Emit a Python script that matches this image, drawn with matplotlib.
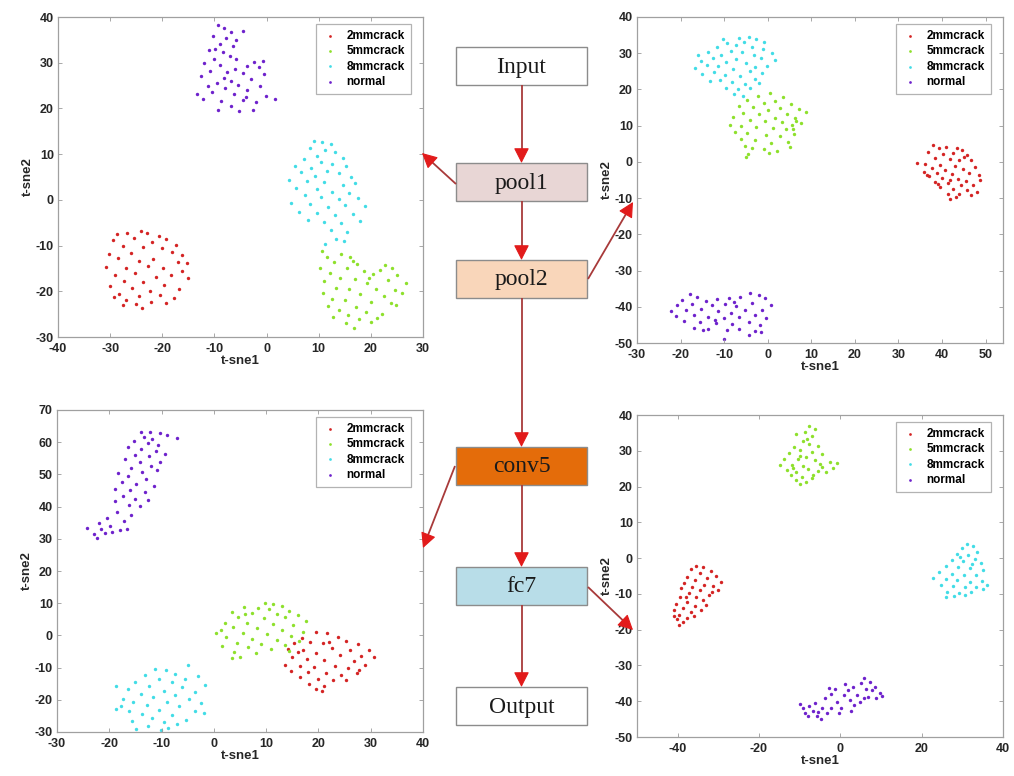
import numpy as np
import matplotlib
matplotlib.use("Agg")
import matplotlib.pyplot as plt
from matplotlib.patches import Rectangle
from matplotlib.font_manager import FontProperties

plt.rcParams["axes.unicode_minus"] = False

# ---------------- data ----------------
classes = ["2mmcrack", "5mmcrack", "8mmcrack", "normal"]
class_colors = ["#D42424", "#8EE02C", "#42DCE6", "#6E22CC"]

# ---- pool1 panel ----
pool1_2mm = [(-28.6,-7.4),(-26.8,-7.2),(-24.1,-6.9),(-22.9,-7.3),(-20.6,-8.0),(-19.3,-8.6),(-29.4,-8.7),(-25.4,-8.4),(-22.0,-9.2),(-17.4,-9.9),(-27.6,-10.1),(-23.7,-10.4),(-20.1,-10.6),(-30.3,-11.9),(-26.0,-11.7),(-18.2,-11.5),(-16.3,-12.0),(-28.4,-12.8),(-21.8,-12.9),(-24.4,-13.3),(-17.0,-13.6),(-15.3,-13.9),(-30.8,-14.6),(-27.0,-14.8),(-22.8,-14.5),(-19.8,-14.9),(-25.3,-15.9),(-16.2,-15.6),(-29.0,-16.4),(-21.2,-16.8),(-18.3,-16.4),(-15.0,-17.0),(-27.4,-17.8),(-23.7,-18.0),(-19.6,-18.6),(-30.0,-18.9),(-25.9,-19.3),(-16.7,-19.4),(-22.4,-19.9),(-28.3,-20.5),(-20.5,-20.8),(-24.5,-21.1),(-17.8,-21.4),(-26.9,-21.9),(-22.1,-22.4),(-29.2,-21.3),(-25.0,-22.8),(-27.6,-23.0),(-23.8,-23.7),(-19.2,-22.5)]
pool1_5mm = [(10.7,-11.2),(11.6,-12.4),(14.3,-11.8),(16.0,-12.6),(13.0,-13.6),(17.3,-14.0),(10.2,-14.8),(15.4,-14.9),(22.8,-14.3),(24.0,-14.8),(12.2,-15.9),(18.6,-15.6),(20.4,-16.2),(21.8,-15.4),(25.1,-16.4),(14.1,-17.1),(16.9,-17.4),(11.1,-17.8),(19.3,-18.1),(23.2,-17.6),(26.7,-18.2),(13.4,-19.2),(15.8,-19.6),(21.0,-19.5),(24.6,-19.8),(10.9,-20.4),(18.0,-20.6),(22.6,-21.0),(26.0,-20.3),(12.6,-21.6),(15.0,-22.0),(20.0,-22.3),(23.8,-22.6),(11.7,-23.2),(17.2,-23.4),(13.9,-24.1),(19.1,-24.6),(22.2,-24.9),(15.6,-25.2),(12.7,-25.6),(17.8,-26.0),(20.1,-26.7),(15.3,-27.0),(16.8,-28.0),(21.1,-25.8),(24.9,-23.0),(19.6,-17.0),(16.6,-13.3)]
pool1_8mm = [(9.0,12.8),(10.6,12.6),(12.3,12.2),(8.4,11.3),(11.2,10.8),(13.1,10.4),(9.7,9.6),(14.6,9.2),(7.2,8.9),(10.4,8.3),(12.5,7.8),(5.4,7.5),(8.6,7.0),(15.2,7.3),(11.6,6.4),(6.6,6.0),(13.8,5.8),(9.3,5.2),(16.2,5.0),(4.3,4.4),(7.8,4.1),(11.0,3.9),(14.6,3.3),(17.0,3.6),(5.6,2.6),(9.6,2.4),(12.6,1.8),(15.9,1.5),(7.3,1.0),(10.5,0.6),(13.9,0.1),(17.6,0.3),(4.7,-0.6),(8.4,-1.0),(11.8,-1.5),(15.0,-1.2),(18.8,-1.4),(6.2,-2.6),(9.7,-2.9),(13.1,-3.4),(16.6,-3.0),(8.0,-4.4),(11.0,-4.9),(14.2,-5.1),(17.9,-4.6),(12.3,-6.6),(15.4,-7.0),(13.3,-8.6),(14.9,-9.1),(11.2,-9.6)]
pool1_normal = [(-9.3,38.2),(-8.2,37.5),(-6.9,36.8),(-4.6,36.9),(-10.2,35.8),(-7.8,35.3),(-5.9,35.0),(-9.0,34.0),(-6.5,33.6),(-11.0,32.8),(-8.4,32.4),(-7.0,31.5),(-10.1,30.9),(-5.8,30.8),(-2.4,30.1),(-0.6,30.3),(-12.0,30.0),(-8.9,29.6),(-3.7,29.2),(-1.5,29.0),(-6.1,28.7),(-10.8,28.2),(-4.6,27.8),(-0.4,27.6),(-12.6,27.0),(-8.2,26.7),(-6.8,26.1),(-2.9,26.4),(-9.6,25.6),(-11.3,25.0),(-5.4,25.2),(-1.2,24.9),(-7.9,24.4),(-3.8,24.0),(-13.4,23.2),(-10.5,23.6),(-6.3,23.1),(-0.2,22.7),(1.6,22.0),(-12.2,22.0),(-8.8,21.7),(-4.5,21.9),(-2.1,21.5),(-6.8,20.6),(-9.3,19.6),(-5.3,19.5),(-2.6,19.7),(-3.9,22.6),(-7.5,27.9),(-9.9,33.0)]

# ---- pool2 panel ----
pool2_2mm = [(37.9,4.6),(39.3,3.8),(41.0,4.0),(43.5,3.9),(44.6,3.4),(36.8,2.6),(40.2,2.1),(42.6,2.4),(45.7,2.0),(38.4,1.2),(41.8,0.8),(44.0,0.6),(46.6,0.4),(34.3,-0.4),(36.2,-0.6),(39.6,-0.9),(42.9,-1.1),(47.5,-1.3),(37.7,-1.8),(40.8,-2.2),(44.9,-2.0),(35.9,-2.7),(38.9,-3.0),(42.2,-3.4),(46.3,-3.2),(48.4,-3.6),(37.0,-4.0),(40.0,-4.4),(43.6,-4.6),(45.6,-5.2),(48.8,-5.1),(38.3,-5.6),(41.4,-5.9),(44.4,-6.3),(47.2,-6.4),(39.6,-7.0),(42.6,-7.6),(45.8,-7.8),(48.0,-8.2),(41.3,-8.8),(43.9,-9.0),(46.6,-9.2),(41.9,-10.3),(43.2,-9.8),(36.5,-3.5),(39.0,-6.0),(45.1,1.3),(41.9,-5.0)]
pool2_5mm = [(0.6,18.9),(-2.3,18.2),(3.6,17.8),(-4.8,17.0),(1.6,16.8),(-0.9,16.2),(5.4,16.0),(-6.7,15.4),(-3.3,15.2),(2.8,15.0),(0.1,14.3),(7.1,14.6),(8.8,13.7),(-5.6,13.6),(-2.0,13.2),(4.4,13.3),(-7.9,12.4),(1.7,12.2),(6.3,12.0),(-4.0,11.6),(-0.6,11.2),(3.3,11.0),(-8.6,10.3),(-6.1,10.0),(5.6,10.2),(7.6,10.6),(-2.6,9.5),(1.1,9.3),(4.2,9.0),(-7.4,8.3),(-4.8,8.0),(-0.4,7.5),(2.8,7.2),(6.0,7.6),(-6.2,6.2),(-2.9,6.0),(0.7,5.3),(4.6,5.4),(-5.3,4.5),(-3.5,3.8),(-0.9,3.6),(2.2,3.0),(5.2,4.0),(-4.6,2.3),(-4.9,1.4),(0.3,2.4),(5.7,9.1),(6.6,11.4)]
pool2_8mm = [(-4.3,34.6),(-2.6,33.9),(-5.5,33.2),(-0.8,33.0),(-9.4,32.7),(-7.2,32.2),(-3.6,31.8),(-11.6,31.6),(-1.1,31.2),(-13.8,30.4),(-8.5,30.6),(-5.9,30.2),(0.9,30.0),(-16.1,29.4),(-10.7,29.6),(-3.2,29.5),(-12.6,28.6),(-7.3,28.5),(-1.5,28.6),(1.7,28.1),(-15.2,27.8),(-9.6,27.6),(-5.0,27.4),(-14.0,26.8),(-11.3,26.4),(-2.9,26.2),(-0.2,26.6),(-16.6,26.0),(-7.9,25.6),(-4.1,25.0),(-12.4,24.8),(-9.8,24.1),(-1.4,24.6),(-15.0,24.2),(-6.4,23.8),(-3.0,23.0),(-11.0,22.6),(-8.2,22.0),(-5.2,21.6),(-13.2,22.4),(-9.6,20.4),(-6.9,20.0),(-4.1,20.4),(-7.8,18.8),(-5.6,18.3),(-1.9,21.8),(-10.2,33.8),(-6.6,34.1)]
pool2_normal = [(-17.9,-36.6),(-16.2,-37.3),(-19.7,-38.2),(-14.1,-38.4),(-11.6,-37.8),(-8.9,-37.6),(-6.4,-37.2),(-4.1,-36.1),(-2.0,-36.8),(-0.6,-37.6),(-20.8,-39.6),(-17.4,-39.2),(-12.8,-39.6),(-9.8,-39.3),(-7.2,-39.9),(-3.5,-38.9),(0.8,-39.4),(-22.1,-41.2),(-18.8,-41.0),(-15.3,-40.6),(-11.4,-41.2),(-8.4,-41.6),(-5.1,-41.0),(-1.4,-40.8),(-21.0,-42.5),(-16.9,-42.4),(-13.7,-42.8),(-10.0,-43.0),(-6.6,-42.7),(-2.9,-42.4),(-0.4,-43.0),(-19.2,-43.8),(-15.6,-44.3),(-11.9,-44.6),(-8.2,-44.8),(-4.3,-44.2),(-1.8,-45.0),(-17.0,-45.8),(-13.6,-46.1),(-9.3,-46.3),(-6.6,-46.0),(-3.0,-46.8),(-14.9,-46.3),(-4.3,-47.8),(-10.1,-48.8),(-1.5,-46.9),(-7.8,-38.6),(-12.2,-43.6)]

# ---- conv5 panel ----
conv5_2mm = [(16.8,-0.9),(19.5,1.2),(21.6,0.8),(23.8,-0.4),(15.3,-2.5),(18.4,-2.0),(20.8,-2.4),(25.2,-1.8),(27.6,-2.6),(14.2,-4.2),(17.0,-4.6),(22.5,-4.0),(26.1,-4.4),(29.6,-4.6),(19.6,-5.4),(24.2,-6.0),(28.2,-6.4),(30.6,-6.8),(15.0,-6.7),(17.8,-7.4),(21.0,-7.6),(26.8,-8.0),(13.6,-9.2),(16.4,-9.6),(19.2,-9.8),(23.1,-9.6),(25.6,-10.2),(29.0,-9.2),(14.8,-11.0),(18.0,-11.4),(21.4,-11.8),(24.4,-12.2),(27.4,-11.6),(16.5,-13.0),(20.0,-13.6),(22.8,-14.0),(25.2,-13.8),(18.2,-15.0),(21.0,-15.6),(19.6,-16.8),(20.6,-17.2),(22.0,-2.0),(27.8,-10.6),(16.0,-5.0)]
conv5_5mm = [(9.8,10.1),(11.3,9.6),(13.0,9.0),(5.8,8.8),(8.5,8.6),(10.6,8.2),(14.4,7.7),(3.4,7.4),(7.2,7.0),(12.0,6.8),(16.0,6.4),(4.7,5.8),(9.6,5.4),(13.7,5.6),(17.6,4.4),(2.1,4.0),(6.4,4.0),(11.4,3.6),(15.2,3.2),(3.7,2.6),(8.3,2.2),(13.1,1.8),(17.0,1.2),(0.4,0.6),(5.6,0.9),(10.2,0.3),(14.8,-0.2),(2.4,-0.6),(7.3,-1.1),(12.0,-1.4),(16.2,-1.8),(4.4,-2.4),(9.0,-2.8),(13.6,-3.0),(1.6,-3.2),(6.6,-3.7),(11.0,-4.2),(3.8,-5.0),(8.1,-5.4),(5.0,-6.6),(3.5,-7.1),(14.4,-4.8),(6.0,6.5),(1.3,1.8)]
conv5_8mm = [(-5.0,-9.2),(-11.3,-10.4),(-9.2,-10.9),(-7.4,-11.9),(-13.2,-12.3),(-3.0,-12.6),(-5.6,-13.4),(-10.4,-13.6),(-15.0,-14.6),(-8.0,-14.4),(-1.7,-15.4),(-12.4,-15.6),(-18.7,-15.8),(-6.1,-16.0),(-16.4,-16.8),(-9.6,-17.2),(-3.6,-17.6),(-14.0,-18.2),(-7.4,-18.6),(-11.6,-19.1),(-17.4,-19.6),(-4.8,-19.8),(-15.4,-20.6),(-9.0,-20.8),(-2.4,-20.9),(-12.8,-21.5),(-6.6,-22.0),(-18.8,-23.0),(-16.2,-23.4),(-10.4,-23.2),(-3.6,-23.5),(-13.8,-24.4),(-8.0,-24.6),(-1.8,-24.1),(-11.8,-25.6),(-5.4,-26.2),(-15.6,-26.6),(-9.6,-26.8),(-12.6,-28.0),(-7.0,-27.6),(-14.8,-29.2),(-10.2,-29.4),(-8.8,-28.8),(-17.8,-22.0)]
conv5_normal = [(-14.0,63.1),(-12.3,63.3),(-10.3,62.8),(-9.0,62.3),(-7.0,61.2),(-13.4,61.6),(-11.8,61.0),(-15.2,60.4),(-12.6,59.6),(-10.6,59.0),(-16.4,58.6),(-13.9,57.8),(-11.1,57.2),(-9.4,56.4),(-15.1,56.1),(-12.4,55.6),(-17.0,54.8),(-14.2,53.9),(-10.3,53.8),(-12.1,52.6),(-15.9,52.1),(-18.4,50.3),(-13.8,50.8),(-10.8,51.4),(-16.4,49.4),(-12.9,48.7),(-17.6,47.6),(-14.8,47.0),(-11.4,46.4),(-18.9,45.4),(-16.0,45.2),(-13.2,44.6),(-17.4,43.3),(-15.0,42.5),(-12.6,42.0),(-19.0,41.6),(-16.2,40.6),(-14.2,40.2),(-18.5,38.4),(-15.9,37.5),(-20.4,36.4),(-17.2,35.5),(-22.0,34.8),(-19.8,34.0),(-24.2,33.5),(-21.6,33.0),(-18.0,32.6),(-16.6,33.0),(-23.0,31.6),(-20.8,31.9),(-22.4,30.3),(-19.5,32.1)]

# ---- fc7 panel ----
fc7_2mm = [(-35.4,-2.1),(-33.8,-2.6),(-36.8,-3.0),(-31.8,-3.6),(-34.6,-4.2),(-30.6,-5.0),(-37.8,-5.2),(-32.8,-5.6),(-35.8,-6.0),(-29.4,-6.6),(-38.4,-7.0),(-33.6,-7.4),(-31.2,-7.8),(-36.4,-8.0),(-39.2,-8.4),(-34.4,-9.0),(-30.2,-9.0),(-37.2,-9.8),(-32.2,-10.2),(-35.6,-10.8),(-39.4,-11.0),(-33.8,-11.8),(-37.6,-12.2),(-40.4,-12.8),(-35.8,-13.4),(-38.6,-14.0),(-34.2,-14.4),(-40.8,-14.6),(-36.8,-15.0),(-39.6,-15.8),(-37.6,-16.6),(-40.2,-17.0),(-38.6,-17.8),(-39.6,-18.8),(-36.0,-16.2),(-33.0,-13.0),(-41.0,-16.2),(-38.0,-11.0),(-31.6,-9.6)]
fc7_5mm = [(-7.6,37.0),(-6.2,36.2),(-8.8,35.3),(-10.8,34.6),(-6.9,34.0),(-9.2,32.6),(-7.6,32.0),(-5.6,31.4),(-11.4,31.0),(-9.9,30.2),(-7.0,29.6),(-12.6,29.4),(-4.6,29.2),(-8.5,28.4),(-13.9,27.8),(-10.4,27.6),(-6.2,27.3),(-2.6,27.0),(-0.9,26.7),(-14.9,26.1),(-12.0,26.0),(-9.2,25.8),(-4.4,25.6),(-1.8,25.2),(-13.2,24.6),(-7.9,24.8),(-10.8,24.0),(-5.6,24.3),(-3.5,24.0),(-12.2,23.2),(-9.4,22.8),(-7.0,22.4),(-11.0,21.8),(-8.4,21.4),(-10.0,20.8),(-8.2,33.4),(-5.1,26.2),(-11.6,25.1),(-6.6,23.1),(-9.8,28.6)]
fc7_8mm = [(31.2,4.0),(32.6,3.4),(30.0,2.8),(33.6,1.6),(28.8,1.2),(31.4,0.8),(27.4,-0.6),(30.2,-0.8),(33.0,-0.2),(34.6,-1.4),(25.9,-2.2),(29.0,-2.6),(31.8,-2.9),(35.1,-3.4),(24.2,-4.0),(27.4,-4.4),(30.4,-4.6),(33.4,-4.8),(22.9,-5.6),(25.9,-5.8),(28.8,-6.2),(31.8,-6.6),(34.8,-6.4),(36.0,-7.6),(24.8,-7.4),(27.6,-7.8),(30.6,-8.2),(33.4,-8.2),(26.2,-9.4),(29.2,-9.8),(32.2,-9.6),(28.0,-10.6),(30.6,-10.4),(26.1,-10.9),(35.2,-8.6),(32.4,-1.6),(29.4,0.2)]
fc7_normal = [(-10.0,-40.8),(-9.2,-42.0),(-8.6,-43.4),(-7.6,-41.2),(-6.8,-42.8),(-5.8,-44.0),(-4.8,-45.0),(-6.2,-40.6),(-4.6,-41.8),(-3.4,-43.2),(-2.2,-42.0),(-3.8,-39.0),(-2.2,-38.0),(-0.8,-40.2),(0.2,-41.8),(-1.2,-36.6),(0.8,-38.4),(1.8,-37.0),(2.4,-39.6),(3.4,-41.0),(-0.4,-43.2),(3.2,-36.0),(4.2,-38.2),(5.2,-34.8),(5.8,-33.4),(4.8,-40.2),(6.4,-36.6),(7.2,-34.6),(6.8,-38.8),(7.8,-37.0),(8.6,-36.0),(8.8,-39.0),(9.8,-37.6),(10.2,-38.6),(1.2,-35.2),(-2.8,-36.2),(-8.0,-44.2),(2.6,-42.6),(5.8,-39.0),(-5.4,-43.0)]

# axis ranges and ticks per panel
pool1_xlim, pool1_ylim = (-40, 30), (-30, 40)
pool2_xlim, pool2_ylim = (-30, 54), (-50, 40)
conv5_xlim, conv5_ylim = (-30, 40), (-30, 70)
fc7_xlim, fc7_ylim = (-50, 40), (-50, 40)
pool1_xticks, pool1_yticks = list(range(-40, 31, 10)), list(range(-30, 41, 10))
pool2_xticks, pool2_yticks = list(range(-30, 51, 10)), list(range(-50, 41, 10))
conv5_xticks, conv5_yticks = list(range(-30, 41, 10)), list(range(-30, 71, 10))
fc7_xticks, fc7_yticks = list(range(-40, 41, 20)), list(range(-50, 41, 10))

# flowchart stages
stages = ["Input", "pool1", "pool2", "conv5", "fc7", "Output"]
stage_colors = ["#FFFFFF", "#E8D6D5", "#F9D6BA", "#E46C0A", "#B8DDE8", "#FFFFFF"]

# ---------------- drawing ----------------
W, H = 1014, 776
fig = plt.figure(figsize=(W / 100, H / 100), dpi=100)
fig.patch.set_facecolor("white")

TICKFP = FontProperties(family="Liberation Sans", weight="bold", size=9)


def px_axes(left, top, right, bottom):
    return fig.add_axes([left / W, 1 - bottom / H, (right - left) / W, (bottom - top) / H])


def draw_panel(ax, groups, xlim, ylim, xticks, yticks):
    for pts, col, lab in zip(groups, class_colors, classes):
        arr = np.array(pts)
        ax.scatter(arr[:, 0], arr[:, 1], s=6, color=col, label=lab, linewidths=0)
    ax.set_xlim(*xlim)
    ax.set_ylim(*ylim)
    ax.set_xticks(xticks)
    ax.set_yticks(yticks)
    ax.tick_params(direction="in", length=3, width=0.6, color="#9A9A9A",
                   top=True, right=True, labelcolor="#262626")
    ax.tick_params(axis="x", pad=4.5)
    ax.tick_params(axis="y", pad=3)
    for lab in ax.get_xticklabels() + ax.get_yticklabels():
        lab.set_fontproperties(TICKFP)
    for sp in ax.spines.values():
        sp.set_color("#A0A0A0")
        sp.set_linewidth(0.9)
    ax.set_xlabel("t-sne1", family="Liberation Sans", weight="bold", size=9.5,
                  color="#262626", labelpad=0)
    ax.set_ylabel("t-sne2", family="Liberation Sans", weight="bold", size=9.5,
                  color="#262626", labelpad=1.5)
    leg = ax.legend(loc="upper right", bbox_to_anchor=(0.967, 0.978), borderaxespad=0,
                    prop=dict(family="Liberation Sans", weight="bold", size=8.5),
                    frameon=True, fancybox=False, handlelength=1.4, handletextpad=0.7,
                    borderpad=0.5, labelspacing=0.28, markerscale=0.8)
    leg.get_frame().set_edgecolor("#A0A0A0")
    leg.get_frame().set_linewidth(0.9)
    return ax


ax1 = px_axes(58, 17, 423, 337)
draw_panel(ax1, [pool1_2mm, pool1_5mm, pool1_8mm, pool1_normal],
           pool1_xlim, pool1_ylim, pool1_xticks, pool1_yticks)
ax2 = px_axes(637, 17, 1003, 343)
draw_panel(ax2, [pool2_2mm, pool2_5mm, pool2_8mm, pool2_normal],
           pool2_xlim, pool2_ylim, pool2_xticks, pool2_yticks)
ax3 = px_axes(57, 410, 423, 732)
draw_panel(ax3, [conv5_2mm, conv5_5mm, conv5_8mm, conv5_normal],
           conv5_xlim, conv5_ylim, conv5_xticks, conv5_yticks)
ax4 = px_axes(637, 415, 1003, 737)
draw_panel(ax4, [fc7_2mm, fc7_5mm, fc7_8mm, fc7_normal],
           fc7_xlim, fc7_ylim, fc7_xticks, fc7_yticks)

# overlay for flowchart (pixel coordinates)
ov = fig.add_axes([0, 0, 1, 1], zorder=10)
ov.set_xlim(0, W)
ov.set_ylim(H, 0)
ov.axis("off")
ov.patch.set_alpha(0)

box_x0, box_x1 = 456, 587
box_tops = [47, 163, 260, 447, 567, 687]
box_h = 38
cx = (box_x0 + box_x1) / 2
for name, col, top in zip(stages, stage_colors, box_tops):
    ov.add_patch(Rectangle((box_x0, top), box_x1 - box_x0, box_h, facecolor=col,
                           edgecolor="#8C8C8C", linewidth=1.0))
    ov.text(cx, top + box_h / 2 + 1, name, ha="center", va="center",
            family="Liberation Serif", size=17, color="#1A1A1A")

LINE_C = "#A83A3A"
HEAD_C = "#E21B1B"


def arrow(x0, y0, x1, y1):
    v = np.array([x1 - x0, y1 - y0], dtype=float)
    L = np.hypot(*v)
    u = v / L
    hx, hy = x1 - u[0] * 10, y1 - u[1] * 10
    ov.plot([x0, hx], [y0, hy], color=LINE_C, lw=1.3, solid_capstyle="butt")
    ov.annotate("", xy=(x1, y1), xytext=(hx, hy),
                arrowprops=dict(arrowstyle="-|>,head_length=0.55,head_width=0.28",
                                color=HEAD_C, lw=0.8, mutation_scale=17,
                                shrinkA=0, shrinkB=0))


# vertical chain
for i in range(len(box_tops) - 1):
    arrow(cx, box_tops[i] + box_h, cx, box_tops[i + 1])

# side arrows to the panels
arrow(456, 184, 422, 153)
arrow(588, 279, 633, 202)
arrow(455, 466, 423, 548)
arrow(588, 587, 633, 630)

fig.savefig("out.png", dpi=100, facecolor="white")
